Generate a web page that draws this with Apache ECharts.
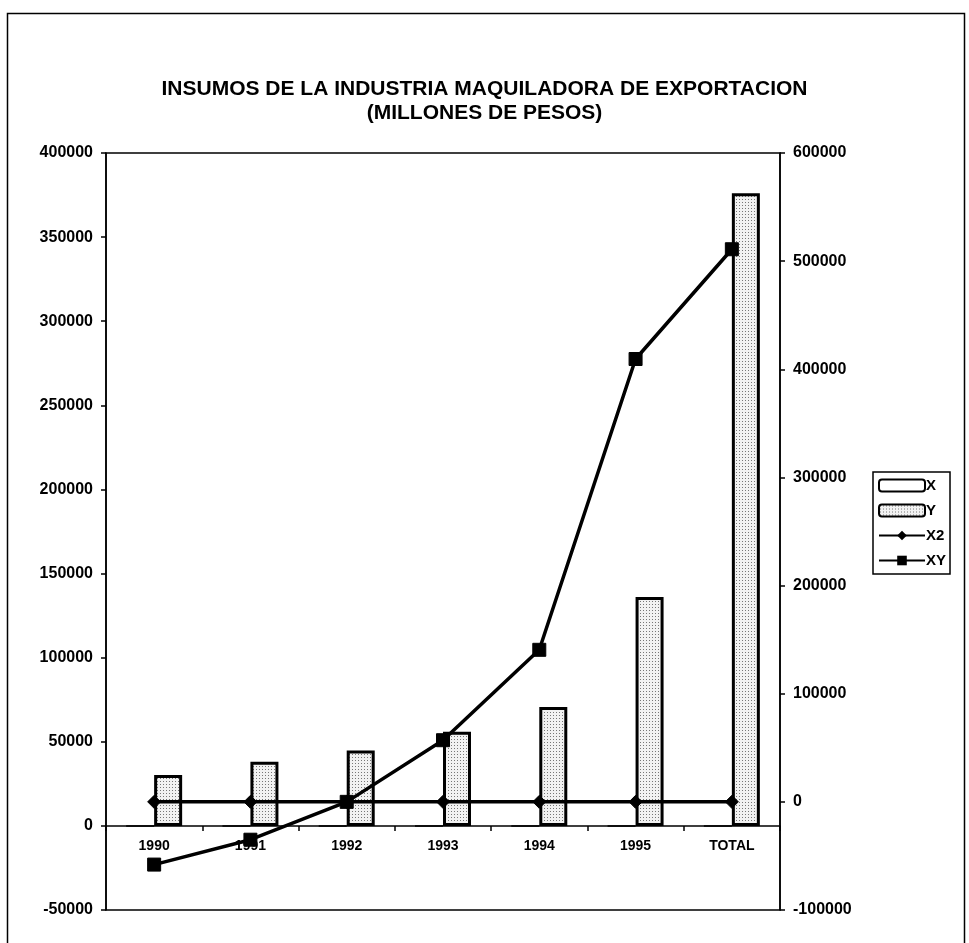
<!DOCTYPE html>
<html>
<head>
<meta charset="utf-8">
<script src="https://cdn.jsdelivr.net/npm/echarts@6/dist/echarts.min.js"></script>
<style>
html,body{margin:0;padding:0;background:#fff;}
#chart{width:969px;height:943px;}
</style>
</head>
<body>
<div id="chart"></div>
<script>
// ---- data ----
const categories = ['1990', '1991', '1992', '1993', '1994', '1995', 'TOTAL'];
const xValues  = [-2, -1, 0, 1, 2, 3, 3];
const yValues  = [30300, 38200, 44800, 56000, 70700, 136100, 376000];
const x2Values = [4, 1, 0, 1, 4, 9, 19];
const xyValues = [-58000, -35000, 0, 57000, 140600, 409500, 511000];
const leftTicks  = { min: -50000, max: 400000, interval: 50000 };
const rightTicks = { min: -100000, max: 600000, interval: 100000 };
const titleText = 'INSUMOS DE LA INDUSTRIA MAQUILADORA DE EXPORTACION\n(MILLONES DE PESOS)';

// stipple pattern for Y bars
const pat = document.createElement('canvas');
pat.width = 3; pat.height = 3;
const pctx = pat.getContext('2d');
pctx.fillStyle = '#f2f2f2'; pctx.fillRect(0, 0, 3, 3);
pctx.fillStyle = '#777'; pctx.fillRect(1, 1, 1, 1);

const FONT = 'Liberation Sans, Arial, sans-serif';
const plain = v => String(v);
const chart = echarts.init(document.getElementById('chart'), null, { renderer: 'canvas' });

chart.setOption({
  animation: false,
  backgroundColor: '#fff',
  graphic: [{
    type: 'rect', shape: { x: 7.5, y: 13.5, width: 957, height: 940 },
    style: { fill: 'none', stroke: '#000', lineWidth: 1.5 }, silent: true, z: -1
  }],
  title: {
    text: titleText, left: 'center', top: 72,
    textStyle: { fontFamily: FONT, fontWeight: 'bold', fontSize: 21, lineHeight: 24, color: '#000', align: 'center' }
  },
  legend: {
    orient: 'vertical', left: 873, top: 472,
    itemWidth: 46, itemHeight: 12, itemGap: 10,
    padding: [6, 4, 6, 5], borderColor: '#000', borderWidth: 1.5,
    textStyle: { fontFamily: FONT, fontWeight: 'bold', fontSize: 15, color: '#000', padding: [0, 0, 0, -4] },
    data: ['X', 'Y', 'X2', 'XY']
  },
  grid: {
    left: 106, right: 189, top: 153, bottom: 33,
    show: true, borderColor: '#000', borderWidth: 1.5
  },
  xAxis: {
    type: 'category', data: categories,
    axisLine: { onZero: true, lineStyle: { color: '#000', width: 1.5 } },
    axisTick: { show: true, length: 5, inside: false, lineStyle: { color: '#000', width: 1.5 } },
    axisLabel: { fontFamily: FONT, fontWeight: 'bold', fontSize: 14, color: '#000', margin: -71 },
    splitLine: { show: false }
  },
  yAxis: [{
    type: 'value', position: 'left',
    min: leftTicks.min, max: leftTicks.max, interval: leftTicks.interval,
    axisLine: { show: true, onZero: false, lineStyle: { color: '#000', width: 1.5 } },
    axisTick: { show: true, length: 5, lineStyle: { color: '#000', width: 1.5 } },
    axisLabel: { fontFamily: FONT, fontWeight: 'bold', fontSize: 16, color: '#000', margin: 13, formatter: plain },
    splitLine: { show: false }
  }, {
    type: 'value', position: 'right',
    min: rightTicks.min, max: rightTicks.max, interval: rightTicks.interval,
    axisLine: { show: true, onZero: false, lineStyle: { color: '#000', width: 1.5 } },
    axisTick: { show: true, length: 5, lineStyle: { color: '#000', width: 1.5 } },
    axisLabel: { fontFamily: FONT, fontWeight: 'bold', fontSize: 16, color: '#000', margin: 13, formatter: plain },
    splitLine: { show: false }
  }],
  series: [{
    name: 'X', type: 'bar', yAxisIndex: 0, data: xValues,
    barWidth: 28, barGap: '0%',
    itemStyle: { color: '#fff', borderColor: '#000', borderWidth: 1.5 }
  }, {
    name: 'Y', type: 'bar', yAxisIndex: 0, data: yValues,
    barWidth: 28, barGap: '0%',
    itemStyle: { color: { image: pat, repeat: 'repeat' }, borderColor: '#000', borderWidth: 3 }
  }, {
    name: 'X2', type: 'line', yAxisIndex: 1, data: x2Values,
    symbol: 'diamond', symbolSize: 13, showAllSymbol: true,
    lineStyle: { color: '#000', width: 3.5 },
    itemStyle: { color: '#000', borderColor: '#000' }, z: 5
  }, {
    name: 'XY', type: 'line', yAxisIndex: 1, data: xyValues,
    symbol: 'rect', symbolSize: 13, showAllSymbol: true,
    lineStyle: { color: '#000', width: 3.5 },
    itemStyle: { color: '#000', borderColor: '#000' }, z: 6
  }]
});
</script>
</body>
</html>
